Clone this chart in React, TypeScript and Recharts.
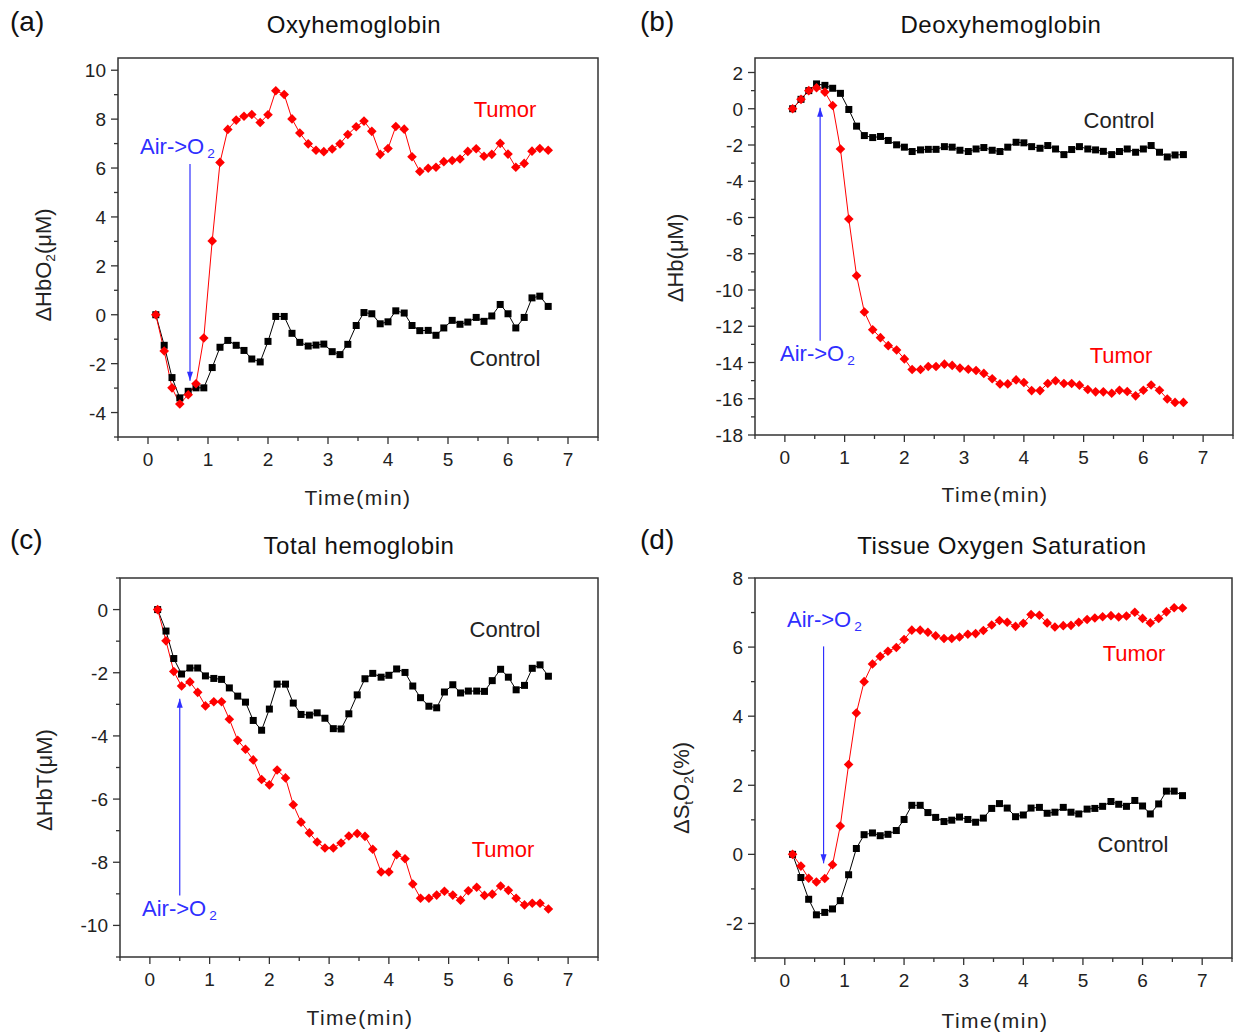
import React from "react";
import { LineChart, Line, XAxis, YAxis, ReferenceArea, ReferenceLine } from "recharts";

// sampling times (min), one every 8 s
const TIME = [
  0.13, 0.27, 0.4, 0.53, 0.67, 0.8, 0.93, 1.07, 1.2, 1.33,
  1.47, 1.6, 1.73, 1.87, 2.0, 2.13, 2.27, 2.4, 2.53, 2.67,
  2.8, 2.93, 3.07, 3.2, 3.33, 3.47, 3.6, 3.73, 3.87, 4.0,
  4.13, 4.27, 4.4, 4.53, 4.67, 4.8, 4.93, 5.07, 5.2, 5.33,
  5.47, 5.6, 5.73, 5.87, 6.0, 6.13, 6.27, 6.4, 6.53, 6.67,
];

// (a) oxyhemoglobin
const OXY_TUMOR = [
  0.0, -1.48, -2.99, -3.65, -3.27, -2.82, -0.95, 3.02, 6.23, 7.58,
  7.96, 8.12, 8.19, 7.86, 8.18, 9.16, 9.01, 8.01, 7.43, 6.99,
  6.73, 6.67, 6.78, 6.99, 7.37, 7.69, 7.92, 7.5, 6.56, 6.8,
  7.7, 7.59, 6.46, 5.86, 5.99, 6.03, 6.26, 6.31, 6.37, 6.68,
  6.79, 6.48, 6.56, 7.01, 6.57, 6.03, 6.19, 6.69, 6.8, 6.73,
];
const OXY_CONTROL = [
  0.0, -1.25, -2.57, -3.4, -3.13, -2.99, -2.99, -2.16, -1.33, -1.05,
  -1.25, -1.46, -1.81, -1.93, -1.09, -0.07, -0.07, -0.76, -1.13, -1.28,
  -1.24, -1.2, -1.51, -1.63, -1.21, -0.44, 0.09, 0.04, -0.37, -0.29,
  0.16, 0.07, -0.44, -0.65, -0.64, -0.84, -0.54, -0.23, -0.39, -0.3,
  -0.11, -0.27, -0.05, 0.42, 0.04, -0.54, -0.11, 0.69, 0.76, 0.34,
];

// (b) deoxyhemoglobin
const DEOXY_TUMOR = [
  0.0, 0.52, 1.0, 1.16, 0.92, 0.18, -2.22, -6.08, -9.21, -11.21,
  -12.19, -12.63, -13.07, -13.31, -13.8, -14.39, -14.39, -14.22, -14.22, -14.09,
  -14.16, -14.31, -14.37, -14.44, -14.6, -14.9, -15.18, -15.18, -14.96, -15.1,
  -15.55, -15.55, -15.16, -15.01, -15.16, -15.16, -15.25, -15.49, -15.62, -15.62,
  -15.7, -15.53, -15.6, -15.84, -15.53, -15.24, -15.53, -16.01, -16.2, -16.2,
];
const DEOXY_CONTROL = [
  0.0, 0.52, 1.0, 1.37, 1.29, 1.13, 0.85, -0.04, -0.96, -1.48,
  -1.59, -1.53, -1.75, -1.99, -2.12, -2.36, -2.27, -2.24, -2.24, -2.09,
  -2.12, -2.29, -2.36, -2.22, -2.14, -2.29, -2.36, -2.12, -1.85, -1.88,
  -2.09, -2.18, -2.03, -2.22, -2.53, -2.25, -2.09, -2.22, -2.27, -2.35,
  -2.53, -2.36, -2.22, -2.4, -2.22, -2.03, -2.4, -2.66, -2.55, -2.53,
];

// (c) total hemoglobin
const TOTAL_TUMOR = [
  0.0, -0.99, -1.96, -2.42, -2.29, -2.62, -3.05, -2.92, -2.92, -3.47,
  -4.14, -4.42, -4.76, -5.38, -5.55, -5.08, -5.33, -6.18, -6.73, -7.07,
  -7.36, -7.55, -7.55, -7.39, -7.17, -7.09, -7.18, -7.59, -8.31, -8.31,
  -7.76, -7.89, -8.69, -9.14, -9.14, -9.04, -8.92, -9.04, -9.2, -8.9,
  -8.79, -9.05, -9.01, -8.75, -8.89, -9.14, -9.35, -9.3, -9.3, -9.48,
];
const TOTAL_CONTROL = [
  0.0, -0.68, -1.55, -2.04, -1.85, -1.85, -2.1, -2.18, -2.21, -2.48,
  -2.74, -2.93, -3.51, -3.82, -3.15, -2.36, -2.36, -2.96, -3.32, -3.34,
  -3.27, -3.44, -3.77, -3.78, -3.3, -2.7, -2.19, -2.02, -2.14, -2.08,
  -1.88, -1.99, -2.42, -2.79, -3.06, -3.11, -2.61, -2.38, -2.64, -2.58,
  -2.58, -2.59, -2.25, -1.89, -2.14, -2.54, -2.4, -1.86, -1.75, -2.11,
];

// (d) tissue oxygen saturation
const SAT_TUMOR = [
  0.0, -0.34, -0.69, -0.8, -0.7, -0.3, 0.82, 2.6, 4.09, 5.0,
  5.51, 5.73, 5.88, 5.99, 6.22, 6.49, 6.49, 6.43, 6.33, 6.25,
  6.25, 6.29, 6.37, 6.39, 6.48, 6.64, 6.77, 6.72, 6.6, 6.69,
  6.94, 6.92, 6.7, 6.58, 6.62, 6.63, 6.72, 6.8, 6.84, 6.88,
  6.91, 6.87, 6.9, 7.01, 6.83, 6.7, 6.83, 7.02, 7.14, 7.13,
];
const SAT_CONTROL = [
  0.0, -0.67, -1.3, -1.75, -1.68, -1.58, -1.34, -0.59, 0.17, 0.57,
  0.62, 0.54, 0.58, 0.69, 1.01, 1.42, 1.42, 1.21, 1.07, 0.95,
  0.99, 1.08, 1.01, 0.93, 1.05, 1.33, 1.47, 1.34, 1.09, 1.14,
  1.34, 1.36, 1.19, 1.22, 1.36, 1.22, 1.17, 1.31, 1.33, 1.39,
  1.53, 1.45, 1.39, 1.56, 1.4, 1.17, 1.46, 1.83, 1.83, 1.7,
];

const X_DOMAIN = [-0.5, 7.5];
const X_TICKS = [-0.5, 0, 0.5, 1, 1.5, 2, 2.5, 3, 3.5, 4, 4.5, 5, 5.5, 6, 6.5, 7, 7.5];

const OXY_Y_TICKS = [-5, -4, -3, -2, -1, 0, 1, 2, 3, 4, 5, 6, 7, 8, 9, 10];
const DEOXY_Y_TICKS = [-18, -17, -16, -15, -14, -13, -12, -11, -10, -9, -8, -7, -6, -5, -4, -3, -2, -1, 0, 1, 2];
const TOTAL_Y_TICKS = [-11, -10, -9, -8, -7, -6, -5, -4, -3, -2, -1, 0, 1];
const SAT_Y_TICKS = [-3, -2, -1, 0, 1, 2, 3, 4, 5, 6, 7, 8];

const FONT = "'Liberation Sans', Arial, sans-serif";
const AXIS = "#333333";
const BLUE = "#2f2fff";

const XTick = (props: any) => {
  const { x, y, payload } = props;
  const v = payload.value;
  const major = Number.isInteger(v);
  return (
    <g>
      <line x1={x} x2={x} y1={y} y2={y + (major ? 7 : 4)} stroke={AXIS} strokeWidth={1.3} />
      {major && (
        <text x={x} y={y + 29} textAnchor="middle" fontSize={19} fill="#222" fontFamily={FONT}>
          {v}
        </text>
      )}
    </g>
  );
};

const YTick = (props: any) => {
  const { x, y, payload } = props;
  const v = payload.value;
  const major = v % 2 === 0;
  return (
    <g>
      <line x1={x} x2={x - (major ? 7 : 4)} y1={y} y2={y} stroke={AXIS} strokeWidth={1.3} />
      {major && (
        <text x={x - 12} y={y + 7} textAnchor="end" fontSize={19} fill="#222" fontFamily={FONT}>
          {v}
        </text>
      )}
    </g>
  );
};

const squareDot = (p: any) => (
  <rect key={`s${p.index}`} x={p.cx - 3.5} y={p.cy - 3.5} width={7} height={7} fill="#000" />
);

const diamondDot = (p: any) => (
  <polygon
    key={`d${p.index}`}
    points={`${p.cx},${p.cy - 4.8} ${p.cx + 4.8},${p.cy} ${p.cx},${p.cy + 4.8} ${p.cx - 4.8},${p.cy}`}
    fill="#ff0000"
  />
);

const arrowShape = (p: any) => {
  const { x1, y1, x2, y2 } = p;
  const dir = y2 > y1 ? 1 : -1;
  return (
    <g>
      <line x1={x1} y1={y1} x2={x2} y2={y2} stroke={BLUE} strokeWidth={1.2} />
      <polygon points={`${x2},${y2} ${x2 - 3},${y2 - dir * 9} ${x2 + 3},${y2 - dir * 9}`} fill={BLUE} />
    </g>
  );
};

type PanelProps = {
  left: number;
  top: number;
  width: number;
  height: number;
  yDomain: number[];
  yTicks: number[];
  tumor: number[];
  control: number[];
  arrow: { x: number; from: number; to: number };
};

function Panel({ left, top, width, height, yDomain, yTicks, tumor, control, arrow }: PanelProps) {
  const data = TIME.map((t, i) => ({ t, tumor: tumor[i], control: control[i] }));
  return (
    <div style={{ position: "absolute", left: left - 70, top: top - 10 }}>
      <LineChart width={width + 80} height={height + 60} data={data} margin={{ top: 10, right: 10, bottom: 10, left: 0 }}>
        <XAxis
          dataKey="t"
          type="number"
          domain={X_DOMAIN}
          ticks={X_TICKS}
          interval={0}
          height={40}
          tickSize={0}
          tickMargin={0}
          axisLine={false}
          tickLine={false}
          tick={XTick}
        />
        <YAxis
          type="number"
          domain={yDomain}
          ticks={yTicks}
          interval={0}
          width={70}
          tickSize={0}
          tickMargin={0}
          axisLine={false}
          tickLine={false}
          tick={YTick}
          allowDataOverflow
        />
        <ReferenceArea
          x1={X_DOMAIN[0]}
          x2={X_DOMAIN[1]}
          y1={yDomain[0]}
          y2={yDomain[1]}
          fill="none"
          stroke={AXIS}
          strokeWidth={1.5}
          fillOpacity={0}
        />
        <ReferenceLine
          segment={[
            { x: arrow.x, y: arrow.from },
            { x: arrow.x, y: arrow.to },
          ]}
          shape={arrowShape}
        />
        <Line dataKey="control" stroke="#000" strokeWidth={1} dot={squareDot} isAnimationActive={false} />
        <Line dataKey="tumor" stroke="#ff0000" strokeWidth={1} dot={diamondDot} isAnimationActive={false} />
      </LineChart>
    </div>
  );
}

function Txt({
  x,
  y,
  size = 21,
  color = "#222",
  start = false,
  rotate = false,
  spacing = 0,
  children,
}: {
  x: number;
  y: number;
  size?: number;
  color?: string;
  start?: boolean;
  rotate?: boolean;
  spacing?: number;
  children: React.ReactNode;
}) {
  const tf = rotate ? "translate(-50%, -50%) rotate(-90deg)" : start ? "translate(0, -50%)" : "translate(-50%, -50%)";
  return (
    <div
      style={{
        position: "absolute",
        left: x,
        top: y,
        transform: tf,
        fontSize: size,
        color,
        whiteSpace: "nowrap",
        lineHeight: 1,
        fontFamily: FONT,
        letterSpacing: spacing,
      }}
    >
      {children}
    </div>
  );
}

const sub = { fontSize: "0.62em", verticalAlign: "-0.3em" };

const AirO2 = () => (
  <>
    Air-&gt;O<span style={{ ...sub, marginLeft: 3 }}>2</span>
  </>
);

export default function App() {
  return (
    <div style={{ position: "absolute", left: 0, top: 0, width: 1236, height: 1034, background: "#fff", fontFamily: FONT }}>
      <Panel
        left={118}
        top={58}
        width={480}
        height={379}
        yDomain={[-5, 10.5]}
        yTicks={OXY_Y_TICKS}
        tumor={OXY_TUMOR}
        control={OXY_CONTROL}
        arrow={{ x: 0.7, from: 6.16, to: -2.7 }}
      />
      <Panel
        left={755}
        top={58}
        width={478}
        height={377}
        yDomain={[-18, 2.8]}
        yTicks={DEOXY_Y_TICKS}
        tumor={DEOXY_TUMOR}
        control={DEOXY_CONTROL}
        arrow={{ x: 0.59, from: -12.8, to: 0.05 }}
      />
      <Panel
        left={120}
        top={578}
        width={478}
        height={379}
        yDomain={[-11, 1]}
        yTicks={TOTAL_Y_TICKS}
        tumor={TOTAL_TUMOR}
        control={TOTAL_CONTROL}
        arrow={{ x: 0.5, from: -9.05, to: -2.82 }}
      />
      <Panel
        left={755}
        top={578}
        width={477}
        height={380}
        yDomain={[-3, 8]}
        yTicks={SAT_Y_TICKS}
        tumor={SAT_TUMOR}
        control={SAT_CONTROL}
        arrow={{ x: 0.65, from: 6.02, to: -0.26 }}
      />

      {/* (a) */}
      <Txt x={10} y={22} size={28} color="#111" start>(a)</Txt>
      <Txt x={354} y={25} size={24} color="#111" spacing={0.6}>Oxyhemoglobin</Txt>
      <Txt x={505} y={110} size={22} color="#ff0000">Tumor</Txt>
      <Txt x={505} y={359} size={22}>Control</Txt>
      <Txt x={140} y={148} size={22} color={BLUE} start><AirO2 /></Txt>
      <Txt x={45} y={265} size={22} rotate>
        ΔHbO<span style={sub}>2</span>(μM)
      </Txt>
      <Txt x={358} y={497} size={21} spacing={1.5}>Time(min)</Txt>

      {/* (b) */}
      <Txt x={640} y={22} size={28} color="#111" start>(b)</Txt>
      <Txt x={1001} y={25} size={24} color="#111" spacing={0.6}>Deoxyhemoglobin</Txt>
      <Txt x={1119} y={121} size={22}>Control</Txt>
      <Txt x={1121} y={356} size={22} color="#ff0000">Tumor</Txt>
      <Txt x={780} y={355} size={22} color={BLUE} start><AirO2 /></Txt>
      <Txt x={676} y={258} size={22} rotate>ΔHb(μM)</Txt>
      <Txt x={995} y={494} size={21} spacing={1.5}>Time(min)</Txt>

      {/* (c) */}
      <Txt x={10} y={540} size={28} color="#111" start>(c)</Txt>
      <Txt x={359} y={546} size={24} color="#111" spacing={0.6}>Total hemoglobin</Txt>
      <Txt x={505} y={630} size={22}>Control</Txt>
      <Txt x={503} y={850} size={22} color="#ff0000">Tumor</Txt>
      <Txt x={142} y={910} size={22} color={BLUE} start><AirO2 /></Txt>
      <Txt x={45} y={780} size={22} rotate>ΔHbT(μM)</Txt>
      <Txt x={360} y={1017} size={21} spacing={1.5}>Time(min)</Txt>

      {/* (d) */}
      <Txt x={640} y={540} size={28} color="#111" start>(d)</Txt>
      <Txt x={1002} y={546} size={24} color="#111" spacing={0.6}>Tissue Oxygen Saturation</Txt>
      <Txt x={787} y={621} size={22} color={BLUE} start><AirO2 /></Txt>
      <Txt x={1134} y={654} size={22} color="#ff0000">Tumor</Txt>
      <Txt x={1133} y={845} size={22}>Control</Txt>
      <Txt x={683} y={788} size={22} rotate>
        ΔS<span style={sub}>t</span>O<span style={sub}>2</span>(%)
      </Txt>
      <Txt x={995} y={1020} size={21} spacing={1.5}>Time(min)</Txt>
    </div>
  );
}
